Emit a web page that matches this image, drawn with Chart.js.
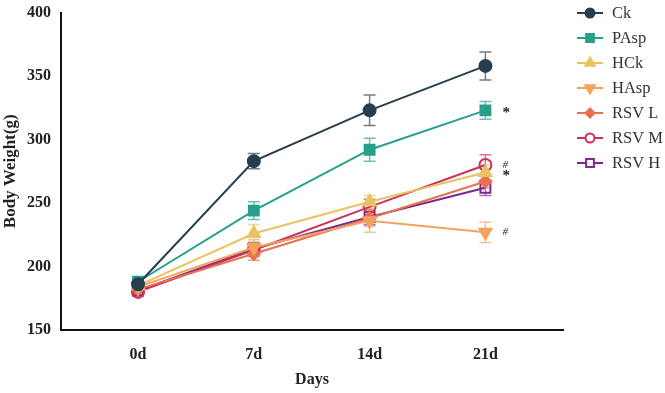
<!DOCTYPE html>
<html>
<head>
<meta charset="utf-8">
<script src="https://cdn.jsdelivr.net/npm/chart.js@4.4.0/dist/chart.umd.min.js"></script>
<style>
  body { margin: 0; background: #fff; }
  #wrap { width: 665px; height: 393px; }
</style>
</head>
<body>
<div id="wrap"><canvas id="myChart"></canvas></div>
<script>
const days = ['0d', '7d', '14d', '21d']
const yTicks = [150, 200, 250, 300, 350, 400]

const groups = ['Ck', 'PAsp', 'HCk', 'HAsp', 'RSV L', 'RSV M', 'RSV H']
const ck = [186, 283, 323, 358]
const ckErr = [3, 6, 12, 11]
const pasp = [188, 244, 292, 323]
const paspErr = [3, 7, 9, 7]
const hck = [185, 226, 251, 274]
const hckErr = [3, 7, 5, 6]
const hasp = [184, 215, 236, 227]
const haspErr = [3, 6, 9, 8]
const rsvL = [182, 210, 238, 267]
const rsvLErr = [3, 5, 6, 5]
const rsvM = [180, 213, 247, 280]
const rsvMErr = [3, 5, 6, 8]
const rsvH = [181, 214, 239, 262]
const rsvHErr = [3, 5, 6, 6]

// marks next to the 21d points: [dataset index, text]
const marks = [[1, '*'], [5, '#'], [2, '*'], [3, '#']]

const colors = ['#263f4e', '#27a08b', '#ebc262', '#f5a25d', '#e8714f', '#c8325c', '#7a2b8c']
const styles = ['circle', 'rect', 'triangle', 'triangle', 'rectRot', 'circle', 'rect']
const rotations = [0, 0, 0, 180, 0, 0, 0]
const filled = [true, true, true, true, true, false, false]
const values = [ck, pasp, hck, hasp, rsvL, rsvM, rsvH]
const errors = [ckErr, paspErr, hckErr, haspErr, rsvLErr, rsvMErr, rsvHErr]

const serif = '"Liberation Serif", "Times New Roman", serif'

function radiusOf(i) {
    if (styles[i] == 'rect') return 7
    if (styles[i] == 'triangle') return 7
    return 6
}

const datasets = groups.map((g, i) => ({
    label: g,
    data: values[i].map((v, j) => ({ x: j, y: v })),
    borderColor: colors[i],
    backgroundColor: filled[i] ? colors[i] : '#ffffff',
    borderWidth: 2,
    pointStyle: styles[i],
    pointRotation: rotations[i],
    pointRadius: radiusOf(i),
    pointBorderWidth: 2,
    pointBackgroundColor: filled[i] ? colors[i] : 'rgba(255,255,255,0)',
    tension: 0,
}))

const errorBars = {
    id: 'errorBars',
    beforeDatasetsDraw(chart) {
        const ctx = chart.ctx
        const xs = chart.scales.x
        const ys = chart.scales.y
        ctx.save()
        ctx.lineWidth = 1.5
        for (let i = datasets.length - 1; i >= 0; i--) {
            ctx.strokeStyle = colors[i] + 'aa'
            for (let j = 0; j < values[i].length; j++) {
                const x = xs.getPixelForValue(j)
                const top = ys.getPixelForValue(values[i][j] + errors[i][j])
                const bot = ys.getPixelForValue(values[i][j] - errors[i][j])
                ctx.beginPath()
                ctx.moveTo(x, top); ctx.lineTo(x, bot)
                ctx.moveTo(x - 6, top); ctx.lineTo(x + 6, top)
                ctx.moveTo(x - 6, bot); ctx.lineTo(x + 6, bot)
                ctx.stroke()
            }
        }
        ctx.restore()
    },
    afterDatasetsDraw(chart) {
        const ctx = chart.ctx
        const xs = chart.scales.x
        const ys = chart.scales.y
        ctx.save()
        ctx.fillStyle = '#222'
        ctx.textAlign = 'left'
        ctx.textBaseline = 'middle'
        const used = []
        for (const [i, t] of marks) {
            const x = xs.getPixelForValue(3) + 17
            let y = ys.getPixelForValue(values[i][3])
            for (const u of used) if (Math.abs(u - y) < 8) y = u + 8
            used.push(y)
            ctx.font = t == '*' ? 'bold 15px ' + serif : 'italic 11px ' + serif
            ctx.fillText(t, x, t == '*' ? y + 3 : y)
        }
        ctx.restore()
    },
}

const legendPlugin = {
    id: 'sideLegend',
    afterDraw(chart) {
        const ctx = chart.ctx
        ctx.save()
        for (let i = 0; i < groups.length; i++) {
            const y = 13 + i * 25
            ctx.strokeStyle = colors[i]
            ctx.lineWidth = 2
            ctx.beginPath()
            ctx.moveTo(577, y); ctx.lineTo(603, y)
            ctx.stroke()
            ctx.fillStyle = filled[i] ? colors[i] : '#ffffff'
            Chart.helpers.drawPoint(ctx, {
                pointStyle: styles[i],
                radius: radiusOf(i) - 1.5,
                rotation: rotations[i],
                borderWidth: 2,
            }, 590, y)
            ctx.fillStyle = '#333'
            ctx.font = '16.5px ' + serif
            ctx.textAlign = 'left'
            ctx.textBaseline = 'middle'
            ctx.fillText(groups[i], 612, y + 1)
        }
        ctx.restore()
    },
}

const config = {
    type: 'line',
    data: { datasets },
    options: {
        responsive: true,
        maintainAspectRatio: false,
        animation: false,
        layout: { padding: { top: 0, right: 102, left: 0, bottom: 0 } },
        plugins: { legend: { display: false }, tooltip: { enabled: false } },
        scales: {
            x: {
                type: 'linear',
                min: -0.665,
                max: 3.67,
                afterFit(s) { s.height = 63 },
                afterBuildTicks(s) { s.ticks = days.map((d, j) => ({ value: j })) },
                grid: { display: false, drawOnChartArea: false, drawTicks: true, tickLength: 6, tickWidth: 2, color: '#111' },
                border: { display: true, color: '#111', width: 2 },
                ticks: {
                    color: '#222',
                    font: { family: serif, size: 16, weight: 'bold' },
                    padding: 9,
                    callback: (v) => days[v],
                },
                title: {
                    display: true,
                    text: 'Days',
                    color: '#222',
                    font: { family: serif, size: 16, weight: 'bold' },
                    padding: { top: 10 },
                },
            },
            y: {
                min: 150,
                max: 400,
                afterFit(s) { s.width = 61 },
                afterBuildTicks(s) { s.ticks = yTicks.map(v => ({ value: v })) },
                grid: { display: false, drawOnChartArea: false, drawTicks: true, tickLength: 7, tickWidth: 2, color: '#111' },
                border: { display: true, color: '#111', width: 2 },
                ticks: {
                    color: '#222',
                    font: { family: serif, size: 16, weight: 'bold' },
                    padding: 3,
                },
                title: {
                    display: true,
                    text: 'Body Weight(g)',
                    color: '#222',
                    font: { family: serif, size: 17, weight: 'bold' },
                    padding: { top: 0, bottom: 0 },
                },
            },
        },
    },
    plugins: [errorBars, legendPlugin],
}

const myChart = new Chart(document.getElementById('myChart').getContext('2d'), config)
</script>
</body>
</html>
